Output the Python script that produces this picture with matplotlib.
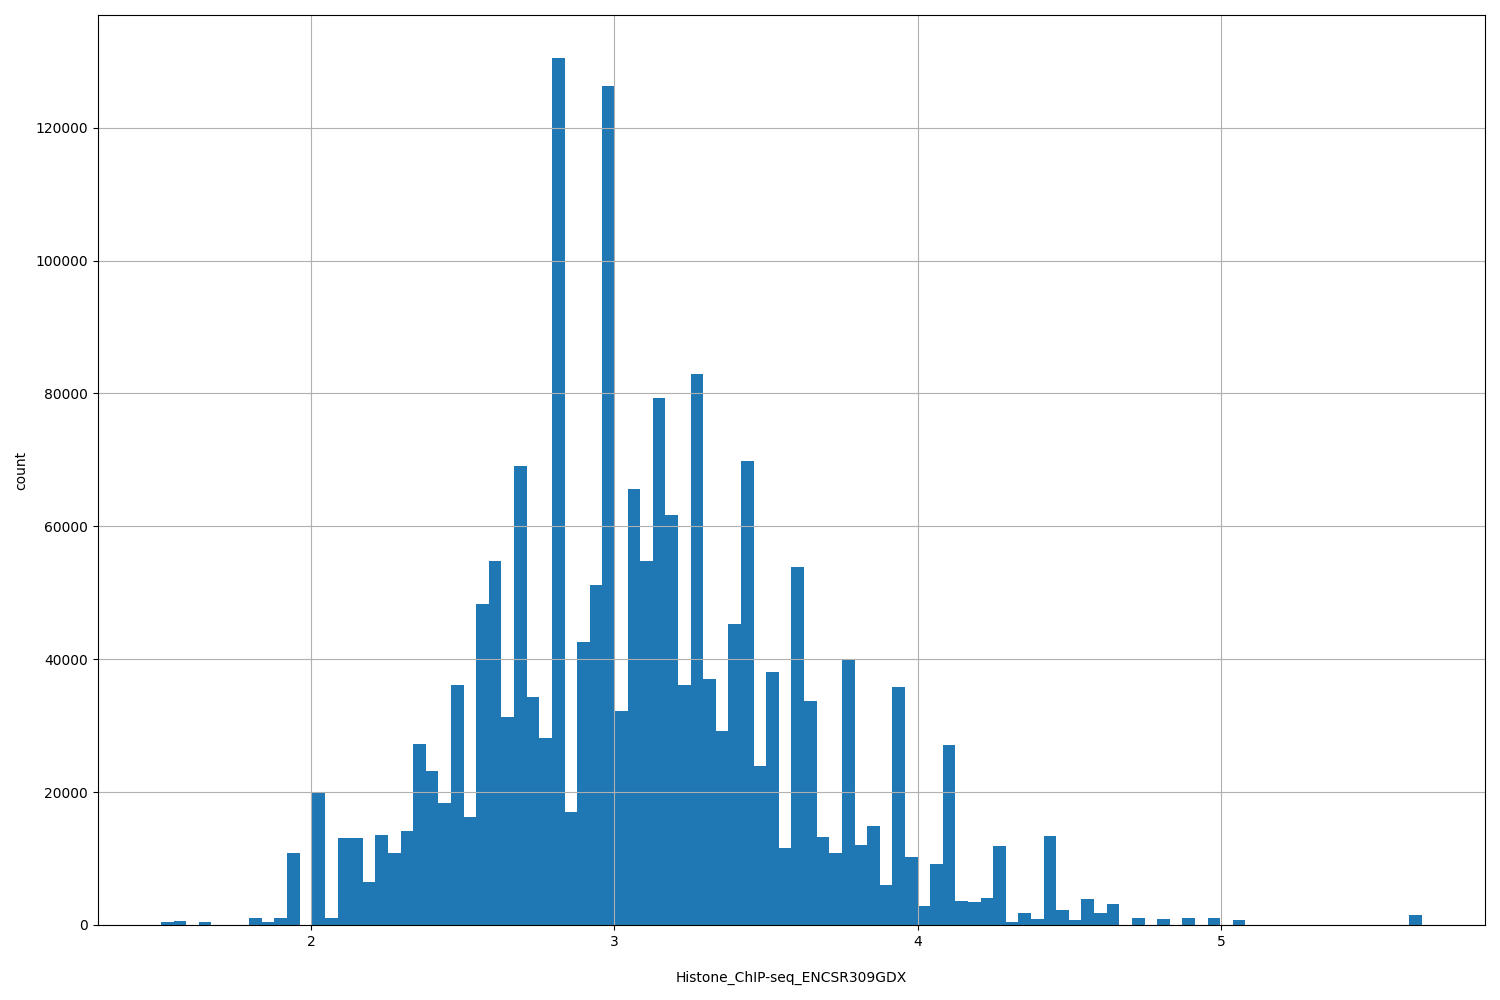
import numpy as np
import matplotlib
matplotlib.use('Agg')
import matplotlib.pyplot as plt

# histogram range (100 equal bins)
x_min = 1.5054
x_max = 5.6627
n_bins = 100

# counts per bin, left to right
counts = [
    450, 600, 0, 450, 0, 0, 0, 1050, 450, 1050,
    10850, 0, 19900, 1050, 13120, 13120, 6480, 13560, 10860, 14160,
    27190, 23130, 18390, 36080, 16230, 48250, 54740, 31330, 69050, 34270,
    28140, 130430, 17000, 42550, 51100, 126200, 32200, 65600, 54750, 79280,
    61680, 36080, 82900, 37050, 29170, 45300, 69860, 23980, 38040, 11530,
    53890, 33720, 13200, 10780, 39940, 11990, 14880, 5990, 35790, 10200,
    2880, 9170, 27090, 3580, 3420, 4050, 11900, 450, 1800, 900,
    13400, 2250, 750, 3900, 1800, 3150, 0, 1050, 0, 900,
    0, 1050, 0, 1050, 0, 750, 0, 0, 0, 0,
    0, 0, 0, 0, 0, 0, 0, 0, 0, 1500,
]

edges = np.linspace(x_min, x_max, n_bins + 1)
centers = (edges[:-1] + edges[1:]) / 2

fig, ax = plt.subplots(figsize=(15, 10), dpi=100)
fig.subplots_adjust(left=0.0653, right=0.99, top=0.985, bottom=0.075)

ax.hist(centers, bins=edges, weights=counts, color='#1f77b4')
ax.grid(True)
ax.set_xticks([2, 3, 4, 5])
ax.set_xlabel('Histone_ChIP-seq_ENCSR309GDX', labelpad=16)
ax.set_ylabel('count', labelpad=5)

fig.savefig('out.png')
